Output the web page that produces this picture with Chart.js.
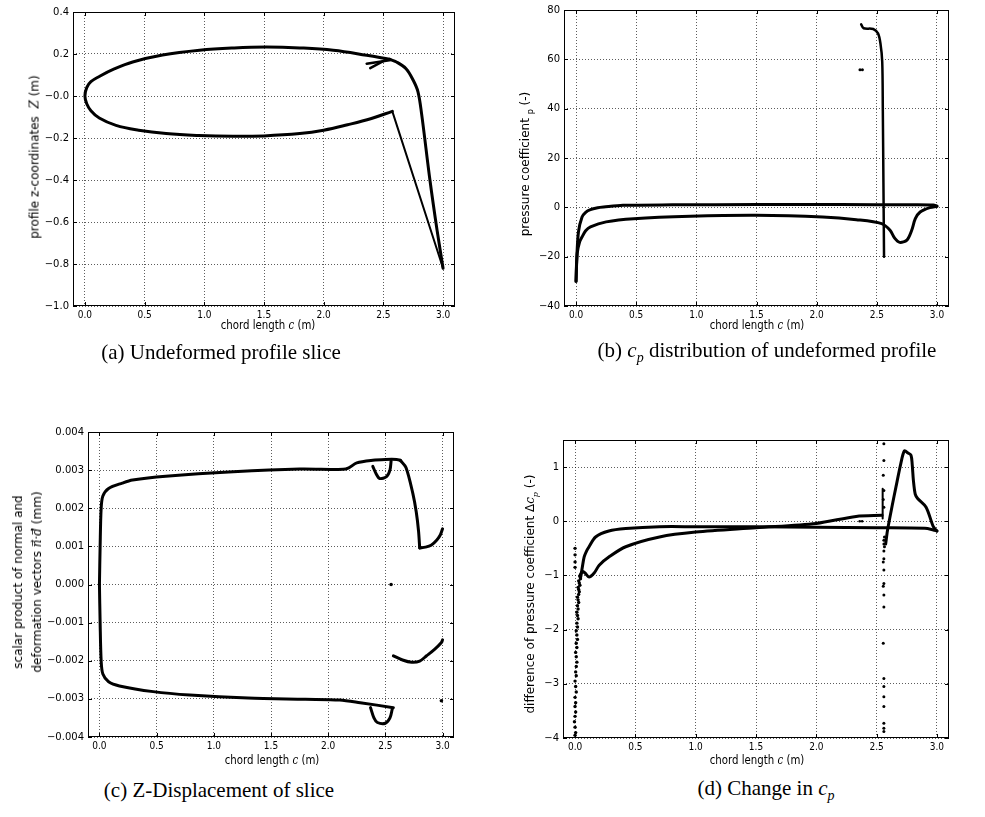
<!DOCTYPE html>
<html>
<head>
<meta charset="utf-8">
<script src="https://cdn.jsdelivr.net/npm/chart.js@4.4.0/dist/chart.umd.min.js"></script>
<style>
    body { margin: 0; background: #fff; width: 985px; height: 817px; position: relative; overflow: hidden; font-family: "DejaVu Sans", sans-serif; color: #000; }
    canvas { position: absolute; }
    .lbl { position: absolute; white-space: nowrap; font-size: 12px; line-height: 19px; text-align: center; }
    .ylab { transform: translate(-50%, -50%) rotate(-90deg); }
    .xlab { transform: translate(-50%, -50%) scaleX(0.85); }
    .cap { position: absolute; white-space: nowrap; font-family: "Liberation Serif", "DejaVu Serif", serif; font-size: 21px; transform: translate(-50%, -50%); }
    .m { font-family: "DejaVu Serif", serif; font-style: italic; }
    .vec { position: relative; display: inline-block; }
    .vec::after { content: "\2192"; position: absolute; left: 0.05em; top: -0.62em; font-size: 0.7em; font-style: normal; font-family: "DejaVu Sans", sans-serif; }
</style>
</head>
<body>
<canvas id="chartA" width="490" height="340" style="left:0;top:0"></canvas>
<canvas id="chartB" width="495" height="340" style="left:490px;top:0"></canvas>
<canvas id="chartC" width="490" height="360" style="left:0;top:400px"></canvas>
<canvas id="chartD" width="495" height="360" style="left:490px;top:400px"></canvas>

<div class="lbl ylab" style="left:35px;top:157px">profile z-coordinates&nbsp; <span class="m">Z</span> (m)</div>
<div class="lbl ylab" style="left:528px;top:164px">pressure coefficient <sub style="font-size:8px">p</sub> (-)</div>
<div class="lbl ylab" style="left:28px;top:582px">scalar product of normal and<br>deformation vectors <span class="m vec">n</span>·<span class="m vec">d</span> (mm)</div>
<div class="lbl ylab" style="left:533px;top:594px">difference of pressure coefficient Δ<span class="m">c</span><sub class="m" style="font-size:8px">p</sub> (-)</div>

<div class="lbl xlab" style="left:268px;top:325px">chord length <span class="m">c</span> (m)</div>
<div class="lbl xlab" style="left:757px;top:325px">chord length <span class="m">c</span> (m)</div>
<div class="lbl xlab" style="left:272px;top:760px">chord length <span class="m">c</span> (m)</div>
<div class="lbl xlab" style="left:757px;top:760px">chord length <span class="m">c</span> (m)</div>

<div class="cap" style="left:221px;top:352px">(a) Undeformed profile slice</div>
<div class="cap" style="left:767px;top:352px">(b) <i>c<sub style="font-size:14px">p</sub></i> distribution of undeformed profile</div>
<div class="cap" style="left:219px;top:790px">(c) Z-Displacement of slice</div>
<div class="cap" style="left:766px;top:790px">(d) Change in <i>c<sub style="font-size:14px">p</sub></i></div>

<script>
// --- (a) profile slice: chord x (m) vs z (m) ---
// surface traced from the lower kink, round the nose, to the upper end
const aSurfX = [2.575, 2.4, 2.2, 2.0, 1.8, 1.5, 1.24, 0.95, 0.68, 0.45, 0.26, 0.12, 0.05, 0.015, 0.0, 0.015, 0.05, 0.12, 0.25, 0.4, 0.65, 0.96, 1.25, 1.52, 1.8, 2.08, 2.36, 2.55];
const aSurfZ = [-0.073, -0.107, -0.137, -0.163, -0.179, -0.19, -0.192, -0.188, -0.179, -0.163, -0.14, -0.105, -0.07, -0.037, 0.0, 0.04, 0.068, 0.093, 0.13, 0.162, 0.195, 0.218, 0.229, 0.233, 0.229, 0.218, 0.194, 0.175];
const aFlapX = [2.55, 2.61, 2.69, 2.75, 2.79, 2.82, 2.89, 2.95, 3.0];
const aFlapZ = [0.175, 0.162, 0.13, 0.075, 0.02, -0.084, -0.4, -0.64, -0.82];
const aTrailX = [2.575, 3.0];
const aTrailZ = [-0.073, -0.82];
const aHook1X = [2.36, 2.55];
const aHook1Z = [0.154, 0.17];
const aHook2X = [2.39, 2.51];
const aHook2Z = [0.133, 0.17];

// --- (b) cp distribution ---
const bUpperX = [0.0, 0.005, 0.02, 0.05, 0.08, 0.12, 0.18, 0.23, 0.39, 0.8, 1.5, 2.2, 2.8, 2.97, 3.0];
const bUpperCp = [-30, -22, -10, -3.9, -2.0, -0.9, -0.2, 0.1, 0.8, 1.0, 1.1, 1.1, 1.0, 0.9, 0.5];
const bLowerX = [0.0, 0.01, 0.03, 0.05, 0.08, 0.12, 0.25, 0.48, 0.95, 1.5, 2.05, 2.33, 2.54, 2.61, 2.65, 2.69, 2.75, 2.79, 2.82, 2.86, 2.94, 3.0];
const bLowerCp = [-30, -18.6, -14, -12, -9.5, -7.9, -5.9, -4.6, -3.6, -3.2, -3.9, -5.0, -6.6, -9.3, -12.6, -14.2, -13.3, -9.3, -4.6, -1.9, -0.1, 0.4];
const bSpikeX = [2.37, 2.39, 2.47, 2.51, 2.53, 2.545, 2.55, 2.555, 2.56];
const bSpikeCp = [74.2, 72.6, 72.3, 70.5, 66.5, 59, 39, 10, -20];
const bDotsX = [2.36, 2.38];
const bDotsCp = [55.8, 55.8];

// --- (c) n.d scalar product ---
const cUpperX = [0.0, 0.006, 0.015, 0.03, 0.08, 0.2, 0.29, 0.58, 1.17, 1.75, 2.13, 2.18, 2.25, 2.39, 2.5, 2.6, 2.63];
const cUpperV = [0, 0.001, 0.002, 0.00232, 0.00252, 0.00266, 0.00274, 0.00284, 0.00296, 0.00303, 0.00302, 0.00306, 0.00319, 0.00326, 0.00328, 0.00328, 0.00326];
const cDropX = [2.63, 2.68, 2.74, 2.77, 2.79, 2.8];
const cDropV = [0.00326, 0.00307, 0.00239, 0.0019, 0.0014, 0.00096];
const cTailX = [2.8, 2.85, 2.9, 2.95, 2.98, 3.0];
const cTailV = [0.00096, 0.00098, 0.00103, 0.00117, 0.0013, 0.00146];
const cLowerX = [0.0, 0.006, 0.015, 0.03, 0.08, 0.175, 0.47, 0.79, 1.3, 1.8, 2.1, 2.28, 2.57];
const cLowerV = [0, -0.001, -0.002, -0.00235, -0.00255, -0.00266, -0.00281, -0.0029, -0.00298, -0.00301, -0.00303, -0.0031, -0.00323];
const cHookX = [2.39, 2.42, 2.45, 2.51, 2.54, 2.55];
const cHookV = [0.0031, 0.0029, 0.00278, 0.00283, 0.003, 0.00324];
const cArcX = [2.57, 2.65, 2.73, 2.8, 2.86, 2.93, 2.99, 3.0];
const cArcV = [-0.00187, -0.00198, -0.00204, -0.00201, -0.00187, -0.0017, -0.00152, -0.00145];
const cCupX = [2.37, 2.4, 2.43, 2.5, 2.54, 2.56];
const cCupV = [-0.00323, -0.0035, -0.00362, -0.00364, -0.0035, -0.00327];
const cDotsX = [2.55, 2.99];
const cDotsV = [0.0, -0.00305];

// --- (d) change in cp ---
const dUpperX = [0.047, 0.06, 0.075, 0.095, 0.116, 0.17, 0.28, 0.42, 0.7, 1.0, 1.5, 2.0, 2.5, 2.9, 2.97, 3.0];
const dUpperD = [-1.03, -0.85, -0.66, -0.55, -0.47, -0.29, -0.18, -0.135, -0.1, -0.1, -0.1, -0.11, -0.12, -0.13, -0.16, -0.18];
const dLowerX = [0.04, 0.06, 0.08, 0.116, 0.16, 0.2, 0.28, 0.42, 0.7, 1.0, 1.5, 2.0, 2.33, 2.545];
const dLowerD = [-1.0, -0.93, -0.95, -1.03, -0.95, -0.81, -0.66, -0.47, -0.29, -0.2, -0.12, -0.04, 0.09, 0.11];
const dJumpX = [2.55, 2.55];
const dJumpD = [0.05, 0.6];
const dPeakX = [2.575, 2.59, 2.63, 2.66, 2.7, 2.73, 2.76, 2.785, 2.795, 2.805, 2.82, 2.84, 2.91, 2.97, 3.0];
const dPeakD = [-0.42, -0.17, 0.3, 0.63, 1.06, 1.3, 1.26, 1.22, 1.05, 0.75, 0.5, 0.42, 0.26, -0.1, -0.18];
const dNoseX = [0.0, 0.005, 0.0, -0.005, 0.0, 0.005, 0.0, 0.005, 0.0, 0.01, 0.005, 0.0, 0.01, 0.005, 0.01, 0.015, 0.01, 0.005, 0.015, 0.01, 0.02, 0.015, 0.01, 0.02, 0.015, 0.025, 0.02, 0.015, 0.025, 0.02, 0.03, 0.025, 0.02, 0.03, 0.035, 0.03, 0.025, 0.04, 0.035, 0.03, 0.045, 0.04, 0.0, 0.0, 0.0, 0.0];
const dNoseD = [-3.95, -3.9, -3.8, -3.7, -3.6, -3.52, -3.42, -3.35, -3.25, -3.15, -3.05, -2.95, -2.85, -2.78, -2.68, -2.6, -2.5, -2.42, -2.33, -2.25, -2.18, -2.1, -2.02, -1.95, -1.88, -1.8, -1.74, -1.68, -1.62, -1.56, -1.5, -1.45, -1.4, -1.35, -1.3, -1.26, -1.22, -1.18, -1.14, -1.1, -1.06, -1.02, -0.85, -0.75, -0.62, -0.5];
const dSpikeX = [2.56, 2.56, 2.555, 2.56, 2.555, 2.56, 2.565, 2.56, 2.56, 2.565, 2.56, 2.56, 2.555, 2.56, 2.56, 2.555, 2.56, 2.56, 2.555, 2.56, 2.56, 2.56, 2.56, 2.56, 2.56, 2.56];
const dSpikeD = [1.43, 1.12, 0.85, 0.57, 0.4, 0.26, -0.29, -0.35, -0.42, -0.47, -0.55, -0.69, -0.75, -0.9, -1.15, -1.2, -1.36, -1.58, -2.25, -2.9, -3.05, -3.24, -3.42, -3.73, -3.82, -3.88];
const dMidX = [2.36, 2.38];
const dMidD = [0.0, 0.0];

// --- Helpers ---
function pts(xs, ys) {
    return xs.map((x, i) => ({ x: x, y: ys[i] }));
}

function curve(xs, ys, width, tension) {
    return {
        data: pts(xs, ys),
        showLine: true,
        borderColor: '#000',
        borderWidth: width,
        pointRadius: 0,
        tension: tension,
        borderCapStyle: 'round',
        borderJoinStyle: 'round'
    };
}

function dots(xs, ys, r) {
    return {
        data: pts(xs, ys),
        showLine: false,
        pointRadius: r,
        pointBackgroundColor: '#000',
        pointBorderWidth: 0
    };
}

function minusSign(str) {
    return str.replace('-', '\u2212');
}

// matplotlib-like box with inward ticks on all four sides
const framePlugin = {
    id: 'frame',
    afterDraw(chart) {
        const { ctx, chartArea: a, scales } = chart;
        ctx.save();
        ctx.strokeStyle = '#000';
        ctx.lineWidth = 1;
        ctx.strokeRect(a.left + 0.5, a.top + 0.5, a.right - a.left - 1, a.bottom - a.top - 1);
        ctx.beginPath();
        scales.x.ticks.forEach(t => {
            const p = Math.round(scales.x.getPixelForValue(t.value)) + 0.5;
            ctx.moveTo(p, a.top); ctx.lineTo(p, a.top + 4);
            ctx.moveTo(p, a.bottom); ctx.lineTo(p, a.bottom - 4);
        });
        scales.y.ticks.forEach(t => {
            const p = Math.round(scales.y.getPixelForValue(t.value)) + 0.5;
            ctx.moveTo(a.left, p); ctx.lineTo(a.left + 4, p);
            ctx.moveTo(a.right, p); ctx.lineTo(a.right - 4, p);
        });
        ctx.stroke();
        ctx.restore();
    }
};

// --- Build one panel ---
function makePanel(id, datasets, y, pad, yWidth) {
    const tickFont = { family: '"DejaVu Sans", sans-serif', size: 10 };
    return new Chart(document.getElementById(id), {
        type: 'scatter',
        data: { datasets: datasets },
        options: {
            responsive: false,
            animation: false,
            layout: { padding: pad },
            plugins: { legend: { display: false }, tooltip: { enabled: false } },
            scales: {
                x: {
                    type: 'linear', min: -0.1, max: 3.1,
                    ticks: {
                        stepSize: 0.5, includeBounds: false, maxRotation: 0, padding: 3,
                        color: '#000',
                        font: { family: '"DejaVu Sans Condensed", "DejaVu Sans", sans-serif', size: 10 },
                        callback: v => v.toFixed(1)
                    },
                    grid: { color: 'rgba(0,0,0,0.8)', lineWidth: 0.8, drawTicks: false },
                    border: { display: false, dash: [1, 2] },
                    afterFit: s => { s.height = 20; }
                },
                y: {
                    type: 'linear', min: y.min, max: y.max,
                    ticks: {
                        stepSize: y.step, includeBounds: false, padding: 4,
                        color: '#000', font: tickFont,
                        callback: v => minusSign(v.toFixed(y.dec))
                    },
                    grid: { color: 'rgba(0,0,0,0.8)', lineWidth: 0.8, drawTicks: false },
                    border: { display: false, dash: [1, 2] },
                    afterFit: s => { s.width = yWidth; }
                }
            }
        },
        plugins: [framePlugin]
    });
}

makePanel('chartA', [
    curve(aSurfX, aSurfZ, 3, 0.4),
    curve(aFlapX, aFlapZ, 3, 0.35),
    curve(aTrailX, aTrailZ, 2, 0),
    curve(aHook1X, aHook1Z, 2.5, 0),
    curve(aHook2X, aHook2Z, 2.5, 0)
], { min: -1.0, max: 0.4, step: 0.2, dec: 1 }, { left: 0, top: 12, right: 35, bottom: 14 }, 73);

makePanel('chartB', [
    curve(bUpperX, bUpperCp, 3, 0.3),
    curve(bLowerX, bLowerCp, 3, 0.3),
    curve(bSpikeX, bSpikeCp, 2.5, 0.3),
    dots(bDotsX, bDotsCp, 1.5)
], { min: -40, max: 80, step: 20, dec: 0 }, { left: 0, top: 8, right: 36, bottom: 14 }, 74);

makePanel('chartC', [
    curve(cUpperX, cUpperV, 3, 0.3),
    curve(cDropX, cDropV, 3, 0.3),
    curve(cTailX, cTailV, 3, 0.3),
    curve(cLowerX, cLowerV, 3, 0.3),
    curve(cHookX, cHookV, 3, 0.3),
    curve(cArcX, cArcV, 3, 0.3),
    curve(cCupX, cCupV, 3, 0.3),
    dots(cDotsX, cDotsV, 1.8)
], { min: -0.004, max: 0.004, step: 0.001, dec: 3 }, { left: 0, top: 32, right: 36, bottom: 3 }, 88);

makePanel('chartD', [
    curve(dUpperX, dUpperD, 3, 0.3),
    curve(dLowerX, dLowerD, 3, 0.3),
    curve(dJumpX, dJumpD, 2, 0),
    curve(dPeakX, dPeakD, 3, 0.3),
    dots(dNoseX, dNoseD, 1.7),
    dots(dSpikeX, dSpikeD, 1.5),
    dots(dMidX, dMidD, 1.3)
], { min: -4, max: 1.5, step: 1, dec: 0 }, { left: 0, top: 40, right: 36, bottom: 2 }, 73);
</script>
</body>
</html>
